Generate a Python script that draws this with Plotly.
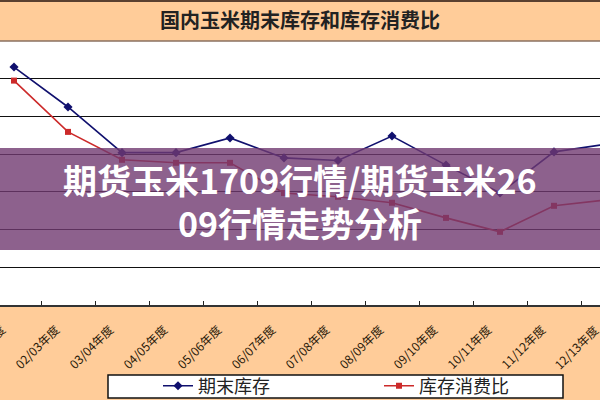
import plotly.graph_objects as go

categories = ["01/02年度", "02/03年度", "03/04年度", "04/05年度", "05/06年度", "06/07年度",
              "07/08年度", "08/09年度", "09/10年度", "10/11年度", "11/12年度", "12/13年度"]
ending_stock = [6.31, 5.25, 4.04, 4.04, 4.43, 3.90, 3.83, 4.48, 3.71, 2.97, 4.06, 4.27]
stock_use_ratio = [5.95, 4.59, 3.85, 3.77, 3.77, 2.97, 2.87, 2.71, 2.31, 1.94, 2.63, 2.79]

chart_title = "国内玉米期末库存和库存消费比"
banner_line1 = "期货玉米1709行情/期货玉米26"
banner_line2 = "09行情走势分析"

W, H = 600, 400
top, bottom = 41, 305
ph = bottom - top
x_range = [-14 / 54, (600 - 14) / 54]

def py(p):
    return (bottom - p) / ph

fig = go.Figure()
fig.add_trace(go.Scatter(
    x=categories, y=ending_stock, name="期末库存", mode="lines+markers",
    line=dict(color="#10106e", width=1.6),
    marker=dict(symbol="diamond", size=7, color="#10106e")))
fig.add_trace(go.Scatter(
    x=categories, y=stock_use_ratio, name="库存消费比", mode="lines+markers",
    line=dict(color="#cc2a2a", width=1.6),
    marker=dict(symbol="square", size=6, color="#cc2a2a")))

font_cjk = "Noto Sans CJK SC"
tick_font = dict(family=font_cjk, size=12, color="#2a1a0a")

shapes = [
    dict(type="line", xref="paper", yref="paper", x0=0, x1=1, y0=py(1), y1=py(1),
         line=dict(color="#5a4030", width=2)),
    dict(type="line", xref="paper", yref="paper", x0=0, x1=1, y0=py(41), y1=py(41),
         line=dict(color="#8a7060", width=1.5)),
    dict(type="rect", xref="paper", yref="paper", x0=108 / W, x1=563 / W, y0=py(375), y1=py(398),
         fillcolor="white", line=dict(color="#111", width=1.5), layer="below"),
    dict(type="rect", xref="paper", yref="paper", x0=0, x1=1, y0=py(250), y1=py(148),
         fillcolor="rgba(112,58,112,0.80)", line=dict(width=0), layer="above"),
]

last_idx = len(categories) - 1
last_x_paper = (last_idx - x_range[0]) / (x_range[1] - x_range[0])

annotations = [
    dict(text="<b>" + chart_title + "</b>", x=0.5, y=py(20), xref="paper", yref="paper", showarrow=False,
         font=dict(family=font_cjk, size=20, color="#222"), xanchor="center", yanchor="middle"),
    dict(text="<b>" + banner_line1 + "</b>", x=0.5, y=py(179), xref="paper", yref="paper",
         showarrow=False, font=dict(family=font_cjk, size=34, color="white"),
         xanchor="center", yanchor="middle"),
    dict(text="<b>" + banner_line2 + "</b>", x=0.5, y=py(222), xref="paper", yref="paper",
         showarrow=False, font=dict(family=font_cjk, size=34, color="white"),
         xanchor="center", yanchor="middle"),
    # last category label (its tick lies just past the visible edge)
    dict(text=categories[-1], x=last_x_paper, xref="paper", xshift=-33, y=py(347), yref="paper",
         showarrow=False, textangle=-45, font=tick_font, xanchor="center", yanchor="middle"),
]

fig.update_layout(
    width=W, height=H,
    margin=dict(l=0, r=0, t=top, b=H - bottom, pad=0, autoexpand=False),
    paper_bgcolor="#ffcc99", plot_bgcolor="white",
    showlegend=True,
    legend=dict(orientation="h", x=158 / W, y=py(386), xanchor="left", yanchor="middle",
                bgcolor="rgba(0,0,0,0)", borderwidth=0,
                font=dict(family=font_cjk, size=18, color="#222"),
                entrywidth=176, entrywidthmode="pixels"),
    xaxis=dict(type="category", range=x_range, tickson="boundaries",
               ticks="inside", ticklen=4, tickcolor="#222", tickwidth=1, automargin=False,
               showline=True, linecolor="#333", linewidth=2, showgrid=False,
               tickangle=-45, ticklabelshift=-12, ticklabelstandoff=11,
               tickfont=tick_font),
    yaxis=dict(range=[0, 7], dtick=1, showticklabels=False, ticks="", automargin=False,
               showgrid=True, gridcolor="#111", gridwidth=1, zeroline=False, showline=False),
    shapes=shapes, annotations=annotations,
)

fig.write_html("out.html", config={"displayModeBar": False},
               post_script="document.body.style.margin='0';document.body.style.overflow='hidden';")
